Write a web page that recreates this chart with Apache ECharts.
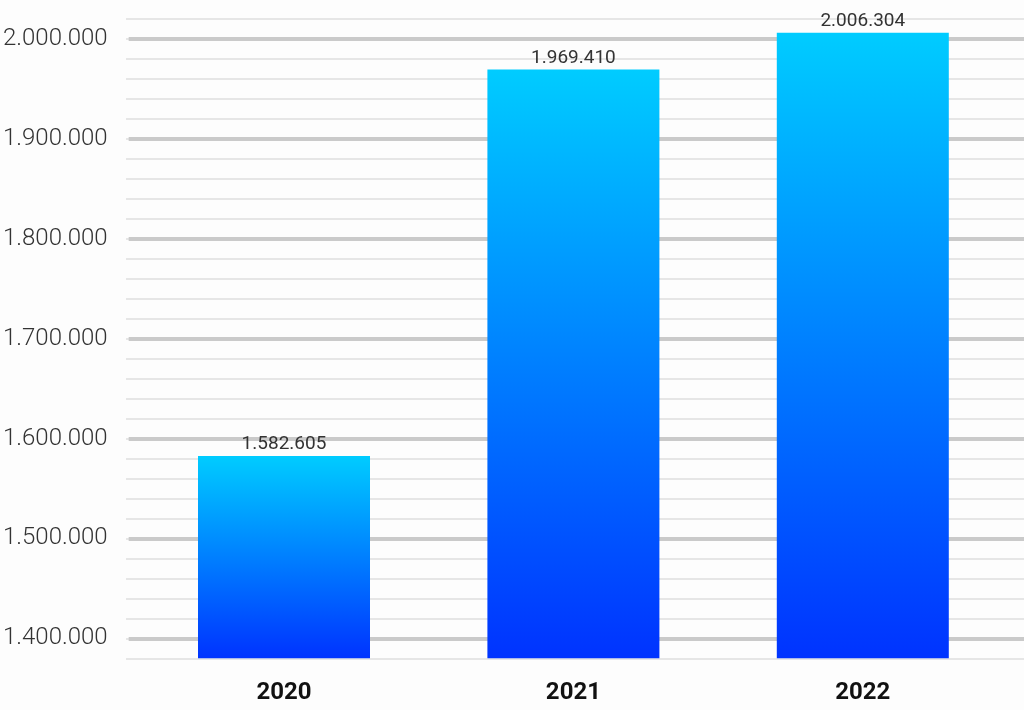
<!DOCTYPE html>
<html>
<head>
<meta charset="utf-8">
<script src="https://cdn.jsdelivr.net/npm/echarts@6/dist/echarts.min.js"></script>
<style>
html,body{margin:0;padding:0;background:#fdfdfd;}
#chart{width:1024px;height:710px;}
</style>
</head>
<body>
<div id="chart"></div>
<script>
const categories = ['2020', '2021', '2022'];
const values = [1582605, 1969410, 2006304];
const axisMin = 1380000;
const axisMax = 2020000;
const majorMin = 1400000;
const majorMax = 2000000;
const majorStep = 100000;
const minorStep = 20000;

function fmt(v) {
  return String(v).replace(/\B(?=(\d{3})+(?!\d))/g, '.');
}

const chart = echarts.init(document.getElementById('chart'));
chart.setOption({
  backgroundColor: '#fdfdfd',
  animation: false,
  textStyle: { fontFamily: 'Roboto' },
  grid: [
    { left: 126, right: 0, top: 19, bottom: 51.7 },
    { left: 126, right: 0, top: 39, bottom: 71.7 },
    { left: 139.3, right: 16.5, top: 19, bottom: 51.7 }
  ],
  xAxis: [
    { gridIndex: 0, type: 'value', show: false, min: 0, max: 1 },
    { gridIndex: 1, type: 'value', show: false, min: 0, max: 1 },
    {
      gridIndex: 2, type: 'category', data: categories,
      axisLine: { show: false }, axisTick: { show: false },
      axisLabel: { color: '#111', fontSize: 24, fontWeight: 'bold', fontFamily: 'Roboto', margin: 23 }
    }
  ],
  yAxis: [
    {
      gridIndex: 0, type: 'value', min: axisMin, max: axisMax, interval: minorStep,
      axisLabel: { show: false }, axisLine: { show: false }, axisTick: { show: false },
      splitLine: { show: true, lineStyle: { color: '#dedede', width: 1.5 } }, z: 0
    },
    {
      gridIndex: 1, type: 'value', min: majorMin, max: majorMax, interval: majorStep,
      axisLine: { show: false }, axisTick: { show: false },
      axisLabel: { formatter: fmt, color: '#333', fontSize: 24, fontWeight: 300, fontFamily: 'Roboto', margin: 21 },
      splitLine: { show: true, lineStyle: { color: '#cacaca', width: 4 } }, z: 1
    },
    {
      gridIndex: 2, type: 'value', min: axisMin, max: axisMax, show: false,
      splitLine: { show: false }
    }
  ],
  series: [{
    type: 'bar',
    xAxisIndex: 2, yAxisIndex: 2,
    data: values,
    barWidth: 172,
    z: 5,
    itemStyle: {
      color: new echarts.graphic.LinearGradient(0, 0, 0, 1, [
        { offset: 0, color: '#00ccff' },
        { offset: 1, color: '#0033ff' }
      ])
    },
    label: {
      show: true, position: 'top', distance: 2,
      formatter: p => fmt(p.value),
      color: '#333', fontSize: 19, fontFamily: 'Roboto'
    }
  }]
});
</script>
</body>
</html>
